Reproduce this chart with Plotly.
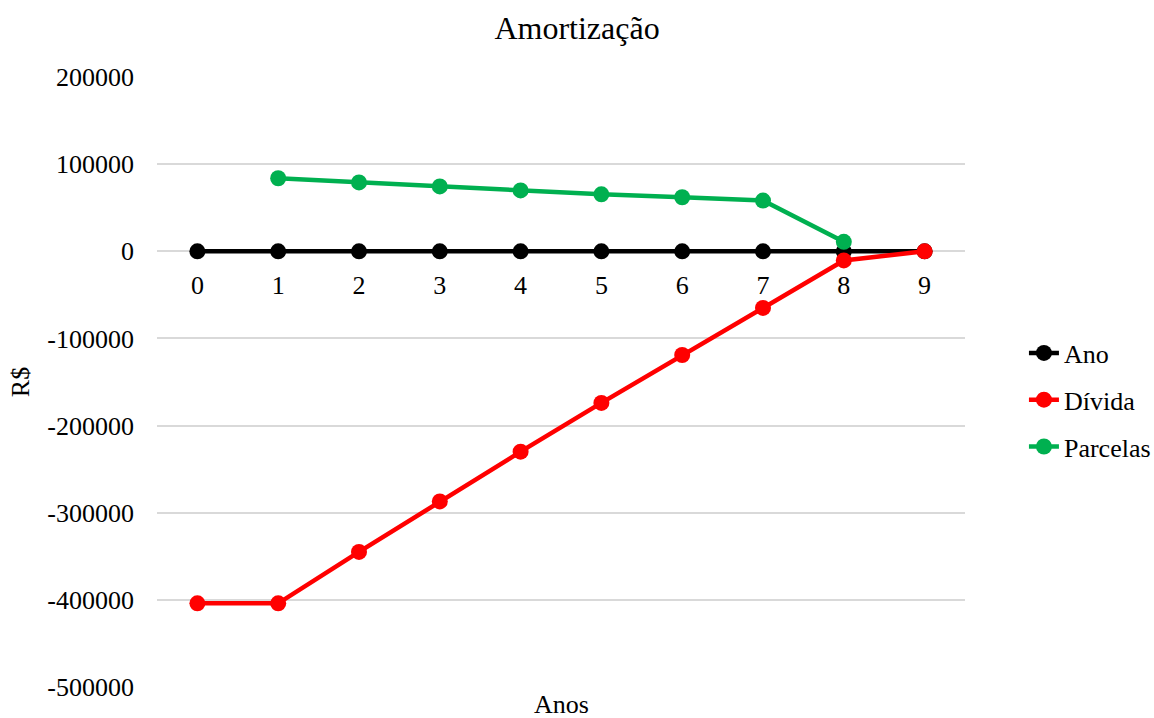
import plotly.graph_objects as go

# Loan amortization schedule (R$)
anos = [0, 1, 2, 3, 4, 5, 6, 7, 8, 9]
ano_serie = [0, 0, 0, 0, 0, 0, 0, 0, 0, 0]
divida = [-404000, -404000, -345000, -287000, -230000, -174000, -119000, -65000, -10500, 0]
parcelas = [None, 83800, 79000, 74400, 69800, 65400, 62000, 58200, 10800, None]

y_ticks = [200000, 100000, 0, -100000, -200000, -300000, -400000, -500000]
y_labels = ["200000", "100000", "0", "-100000", "-200000", "-300000", "-400000", "-500000"]

FONT = "Liberation Serif, Times New Roman, serif"

series = [
    ("Ano", ano_serie, "#000000"),
    ("Dívida", divida, "#FF0000"),
    ("Parcelas", parcelas, "#00B050"),
]

fig = go.Figure()
for name, values, color in series:
    fig.add_trace(go.Scatter(
        x=anos, y=values, name=name, mode="lines+markers",
        line=dict(color=color, width=4.5),
        marker=dict(color=color, size=16),
        legendgroup=name,
        connectgaps=False,
    ))

fig.update_layout(
    width=1154, height=718,
    margin=dict(l=157, r=189, t=77, b=31, autoexpand=False),
    paper_bgcolor="white", plot_bgcolor="white",
    font=dict(family=FONT, size=26, color="#000000"),
    title=dict(text="Amortização", x=0.5, xanchor="center", y=0.961, yanchor="middle",
               font=dict(family=FONT, size=32, color="#000000")),
    showlegend=True,
    legend=dict(xref="container", x=0.8873, xanchor="left",
                y=0.4705, yanchor="middle",
                font=dict(family=FONT, size=26), tracegroupgap=10,
                bgcolor="rgba(0,0,0,0)"),
    xaxis=dict(
        range=[-0.5, 9.5], tickmode="array", tickvals=anos,
        ticktext=[str(a) for a in anos],
        anchor="free", position=0.7142857, showgrid=False, zeroline=False,
        showline=False, ticks="", ticklabelstandoff=16,
        tickfont=dict(family=FONT, size=26),
    ),
    yaxis=dict(
        range=[-500000, 200000], tickmode="array", tickvals=y_ticks, ticktext=y_labels,
        showgrid=True, gridcolor="#D9D9D9", gridwidth=1.5, zeroline=False,
        showline=False, ticks="", ticklabelstandoff=22,
        tickfont=dict(family=FONT, size=26),
        title=dict(text="R$", standoff=10, font=dict(family=FONT, size=26)),
    ),
    annotations=[dict(text="Anos", x=0.5, xref="paper", y=-0.0295, yref="paper",
                      xanchor="center", yanchor="middle", showarrow=False,
                      font=dict(family=FONT, size=26))],
)

fig.write_html("out.html")
